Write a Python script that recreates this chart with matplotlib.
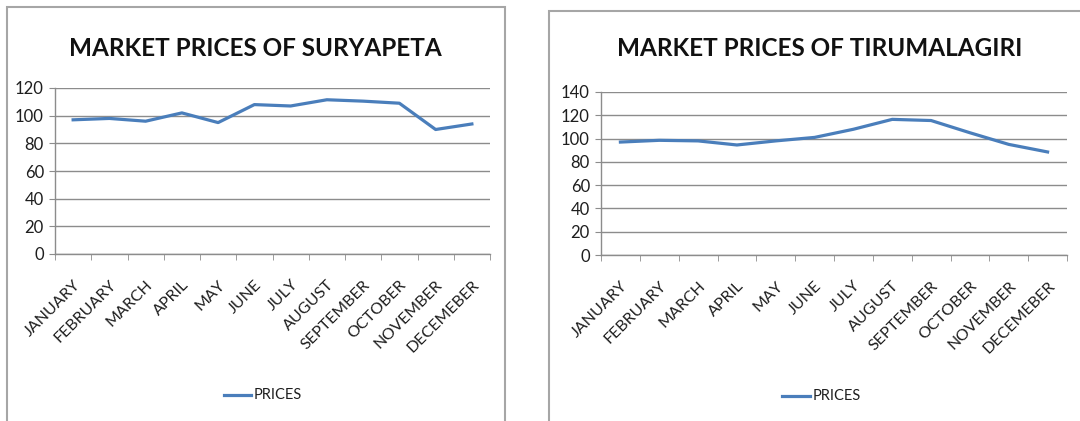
import matplotlib
matplotlib.use("Agg")
import matplotlib.pyplot as plt
from matplotlib.patches import Rectangle
import numpy as np

months = ["JANUARY", "FEBRUARY", "MARCH", "APRIL", "MAY", "JUNE", "JULY",
          "AUGUST", "SEPTEMBER", "OCTOBER", "NOVEMBER", "DECEMEBER"]
suryapeta = [97, 98, 96, 102, 95, 108, 107, 111.5, 110.5, 109, 90, 94]
tirumalagiri = [97, 98.5, 98, 94.5, 98, 101, 108, 116.5, 115.5, 105, 95, 88.5]
titles = ["MARKET PRICES OF SURYAPETA", "MARKET PRICES OF TIRUMALAGIRI"]
series_label = "PRICES"

FONT = ["Lato", "DejaVu Sans"]
plt.rcParams['font.family'] = FONT

W, H = 1080, 421
fig = plt.figure(figsize=(W / 100, H / 100), dpi=100)

def fx(px):
    return px / W

def fy(py):
    return 1 - py / H

line_color = "#4A7EBB"
grid_color = "#8C8C8C"
text_color = "#1E1E1E"

panels = [
    dict(box=(7, 7, 505, 430), ax=(55, 88, 490, 254), ylim=120, data=suryapeta,
         title_xy=(255, 48), leg=(224, 251, 395)),
    dict(box=(549, 11, 1090, 430), ax=(601, 92, 1067, 255), ylim=140, data=tirumalagiri,
         title_xy=(820, 49), leg=(782, 810, 396)),
]

for p, title in zip(panels, titles):
    bx0, by0, bx1, by1 = p["box"]
    fig.patches.append(Rectangle((fx(bx0), fy(by1)), fx(bx1 - bx0), (by1 - by0) / H,
                                 transform=fig.transFigure, fill=False,
                                 edgecolor="#A6A6A6", linewidth=1.5))
    x0, y0, x1, y1 = p["ax"]
    ax = fig.add_axes([fx(x0), fy(y1), fx(x1 - x0), (y1 - y0) / H])
    x = np.arange(len(months))
    ax.plot(x, p["data"], color=line_color, linewidth=2.3, label=series_label,
            solid_joinstyle="round", zorder=3)
    ax.set_xlim(-0.5, len(months) - 0.5)
    ax.set_ylim(0, p["ylim"])
    ax.set_yticks(np.arange(0, p["ylim"] + 1, 20))
    ax.yaxis.grid(True, color=grid_color, linewidth=1.0)
    ax.set_axisbelow(True)
    for s in ["top", "right"]:
        ax.spines[s].set_visible(False)
    for s in ["left", "bottom"]:
        ax.spines[s].set_color(grid_color)
        ax.spines[s].set_linewidth(1.0)
    ax.set_xticks(x)
    ax.set_xticklabels(months, rotation=45, ha="right", rotation_mode="anchor",
                       fontsize=11.5, color=text_color)
    ax.set_xticks(np.arange(-0.5, len(months)), minor=True)
    ax.tick_params(axis="x", which="major", length=0, pad=17)
    ax.tick_params(axis="x", which="minor", length=4, color=grid_color)
    ax.tick_params(axis="y", length=4, color=grid_color, labelsize=12,
                   labelcolor=text_color, pad=4)
    fig.text(fx(p["title_xy"][0]), fy(p["title_xy"][1]), title, ha="center", va="center",
             fontsize=17.5, fontweight="bold", color="#111111")
    lx0, lx1, ly = p["leg"]
    fig.add_artist(plt.Line2D([fx(lx0), fx(lx1)], [fy(ly), fy(ly)],
                              transform=fig.transFigure, color=line_color, linewidth=2.3))
    fig.text(fx(lx1 + 3), fy(ly), series_label, ha="left", va="center",
             fontsize=10.5, color=text_color)

fig.savefig("out.png", dpi=100, facecolor="white")
